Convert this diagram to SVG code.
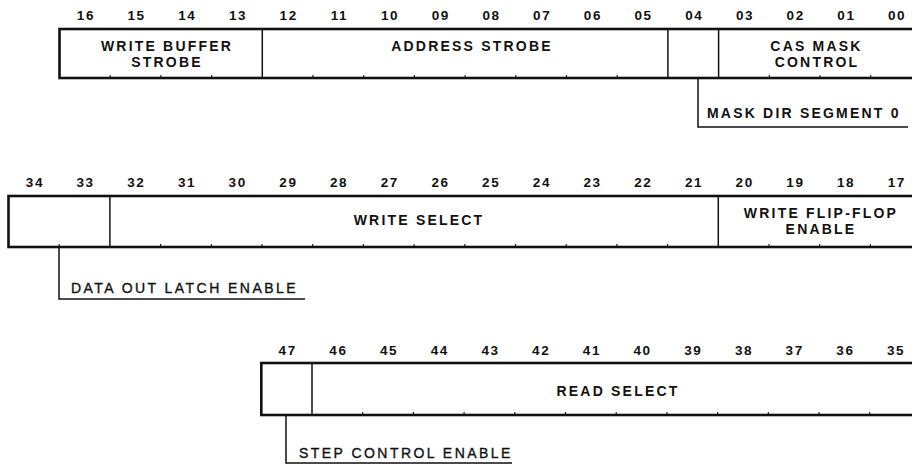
<svg xmlns="http://www.w3.org/2000/svg" width="912" height="464" viewBox="0 0 912 464">
<style>
.box{fill:none;stroke:#111;stroke-width:2.6}
.div{stroke:#111;stroke-width:1.5}
.tick{stroke:#111;stroke-width:1.1}
.lead{fill:none;stroke:#111;stroke-width:1.5}
.num{font-family:"Liberation Sans",Arial,sans-serif;font-weight:bold;font-size:13.5px;letter-spacing:1.6px;text-anchor:middle;fill:#111}
.lbl{font-family:"Liberation Sans",Arial,sans-serif;font-weight:bold;font-size:14px;letter-spacing:2.2px;text-anchor:middle;fill:#111}
.lead-b{font-family:"Liberation Sans",Arial,sans-serif;font-weight:bold;font-size:14px;letter-spacing:2.2px;fill:#111}
.lead-r{font-family:"Liberation Sans",Arial,sans-serif;font-size:14px;letter-spacing:2.45px;fill:#111;stroke:#111;stroke-width:0.35}
</style>
<rect width="912" height="464" fill="#fff"/>

<!-- Row 1: bits 16..00 -->
<g id="row1">
  <g id="row1-numbers" class="num">
    <text x="85.9" y="20">16</text><text x="136.6" y="20">15</text><text x="187.3" y="20">14</text><text x="238.0" y="20">13</text>
    <text x="288.7" y="20">12</text><text x="339.4" y="20">11</text><text x="390.1" y="20">10</text><text x="440.8" y="20">09</text>
    <text x="491.5" y="20">08</text><text x="542.2" y="20">07</text><text x="592.9" y="20">06</text><text x="643.6" y="20">05</text>
    <text x="694.3" y="20">04</text><text x="745.0" y="20">03</text><text x="795.7" y="20">02</text><text x="846.4" y="20">01</text>
    <text x="897.1" y="20">00</text>
  </g>
  <rect class="box" x="59.5" y="29" width="862" height="49"/>
  <g id="row1-ticks" class="tick">
    <path d="M110.2 78v-3M160.9 78v-3M211.6 78v-3M313 78v-3M363.7 78v-3M414.4 78v-3M465.1 78v-3M515.8 78v-3M566.5 78v-3M617.2 78v-3M769.3 78v-3M820 78v-3M870.7 78v-3"/>
  </g>
  <g id="write-buffer-strobe">
    <line class="div" x1="262.3" y1="29" x2="262.3" y2="78"/>
    <text class="lbl" x="167" y="51">WRITE BUFFER</text>
    <text class="lbl" x="167" y="67">STROBE</text>
  </g>
  <g id="address-strobe">
    <line class="div" x1="667.9" y1="29" x2="667.9" y2="78"/>
    <text class="lbl" x="472" y="50.5">ADDRESS STROBE</text>
  </g>
  <g id="mask-dir-segment-0-bit">
    <line class="div" x1="718.6" y1="29" x2="718.6" y2="78"/>
  </g>
  <g id="cas-mask-control">
    <text class="lbl" x="816.5" y="50.5">CAS MASK</text>
    <text class="lbl" x="817" y="66.5">CONTROL</text>
  </g>
</g>

<!-- Row 2: bits 34..17 -->
<g id="row2">
  <g id="row2-numbers" class="num">
    <text x="34.9" y="187">34</text><text x="85.6" y="187">33</text><text x="136.3" y="187">32</text><text x="187.0" y="187">31</text>
    <text x="237.7" y="187">30</text><text x="288.4" y="187">29</text><text x="339.1" y="187">28</text><text x="389.8" y="187">27</text>
    <text x="440.5" y="187">26</text><text x="491.2" y="187">25</text><text x="541.9" y="187">24</text><text x="592.6" y="187">23</text>
    <text x="643.3" y="187">22</text><text x="694.0" y="187">21</text><text x="744.7" y="187">20</text><text x="795.4" y="187">19</text>
    <text x="846.1" y="187">18</text><text x="896.8" y="187">17</text>
  </g>
  <rect class="box" x="8.5" y="196" width="913" height="51"/>
  <g id="row2-ticks" class="tick">
    <path d="M59.2 247v-3M160.6 247v-3M211.3 247v-3M262 247v-3M312.7 247v-3M363.4 247v-3M414.1 247v-3M464.8 247v-3M515.5 247v-3M566.2 247v-3M616.9 247v-3M667.6 247v-3M769 247v-3M819.7 247v-3M870.4 247v-3"/>
  </g>
  <g id="data-out-latch-enable-bits">
    <line class="div" x1="109.9" y1="196" x2="109.9" y2="247"/>
  </g>
  <g id="write-select">
    <line class="div" x1="718.3" y1="196" x2="718.3" y2="247"/>
    <text class="lbl" x="419" y="225">WRITE SELECT</text>
  </g>
  <g id="write-flip-flop-enable">
    <text class="lbl" x="821" y="217.5">WRITE FLIP-FLOP</text>
    <text class="lbl" x="821" y="233.5">ENABLE</text>
  </g>
</g>

<!-- Row 3: bits 47..35 -->
<g id="row3">
  <g id="row3-numbers" class="num">
    <text x="287.7" y="355">47</text><text x="338.4" y="355">46</text><text x="389.1" y="355">45</text><text x="439.8" y="355">44</text>
    <text x="490.5" y="355">43</text><text x="541.2" y="355">42</text><text x="591.9" y="355">41</text><text x="642.6" y="355">40</text>
    <text x="693.3" y="355">39</text><text x="744.0" y="355">38</text><text x="794.7" y="355">37</text><text x="845.4" y="355">36</text>
    <text x="896.1" y="355">35</text>
  </g>
  <rect class="box" x="261.3" y="363" width="660" height="52"/>
  <g id="row3-ticks" class="tick">
    <path d="M362.7 415v-3M413.4 415v-3M464.1 415v-3M514.8 415v-3M565.5 415v-3M616.2 415v-3M666.9 415v-3M717.6 415v-3M768.3 415v-3M819 415v-3M869.7 415v-3"/>
  </g>
  <g id="step-control-enable-bit">
    <line class="div" x1="312" y1="363" x2="312" y2="415"/>
  </g>
  <g id="read-select">
    <text class="lbl" x="618" y="395.5">READ SELECT</text>
  </g>
</g>

<!-- Connectors (leader lines) -->
<g id="connectors" class="lead">
  <path d="M698 79V127H908"/>
  <path d="M59 248V299H305"/>
  <path d="M286 416V463H512"/>
</g>
<g id="leader-labels">
  <text class="lead-b" x="707" y="117.5">MASK DIR SEGMENT 0</text>
  <text class="lead-r" x="71" y="292.5">DATA OUT LATCH ENABLE</text>
  <text class="lead-r" x="299" y="457.5">STEP CONTROL ENABLE</text>
</g>
</svg>
